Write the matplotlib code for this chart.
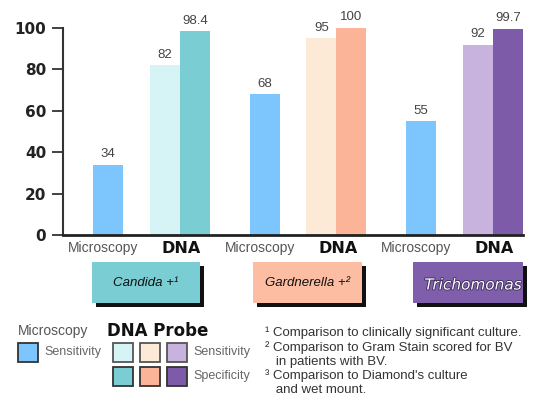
import matplotlib
matplotlib.use("Agg")
import matplotlib.pyplot as plt
from matplotlib.patches import Rectangle
import matplotlib.patheffects as pe

# Data
organisms = ["Candida +\u00b9", "Gardnerella +\u00b2", "Trichomonas"]
microscopy_sensitivity = [34, 68, 55]
dna_sensitivity = [82, 95, 92]
dna_specificity = [98.4, 100, 99.7]
y_ticks = [0, 20, 40, 60, 80, 100]
footnotes = [
    "\u00b9 Comparison to clinically significant culture.",
    "\u00b2 Comparison to Gram Stain scored for BV",
    "   in patients with BV.",
    "\u00b3 Comparison to Diamond's culture",
    "   and wet mount.",
]

# Colours
micro_color = "#7DC5FD"
sens_colors = ["#D6F4F6", "#FDEAD6", "#C8B2DE"]
spec_colors = ["#79CDD3", "#FCB499", "#7D5BA8"]
box_colors = ["#79CDD3", "#FCBDA2", "#7F5EAC"]

W, H = 548, 400
fig = plt.figure(figsize=(W / 100, H / 100), dpi=100)


def fx(px):
    return px / W


def fy(py):
    return 1 - py / H


ax = fig.add_axes([fx(63), fy(235), fx(523) - fx(63), fy(28) - fy(235)])

spacing = 5.22
width = 1.0
for i in range(3):
    xm = 1.5 + spacing * i
    xs = 3.4 + spacing * i
    xp = 4.4 + spacing * i
    ax.bar(xm, microscopy_sensitivity[i], width, color=micro_color, linewidth=0)
    ax.bar(xs, dna_sensitivity[i], width, color=sens_colors[i], linewidth=0)
    ax.bar(xp, dna_specificity[i], width, color=spec_colors[i], linewidth=0)
    for x, v in ((xm, microscopy_sensitivity[i]), (xs, dna_sensitivity[i]),
                 (xp, dna_specificity[i])):
        ax.text(x, v + 2.2, f"{v:g}", ha="center", va="bottom", fontsize=9.5,
                family="Liberation Sans", color="#444444", clip_on=False)

ax.set_xlim(0, 15.34)
ax.set_ylim(0, 100)
for s in ("top", "right"):
    ax.spines[s].set_visible(False)
ax.spines["left"].set_linewidth(1.5)
ax.spines["left"].set_color("#333333")
ax.spines["bottom"].set_linewidth(2)
ax.spines["bottom"].set_color("#222222")

ax.set_yticks(y_ticks)
ax.set_yticklabels([str(t) for t in y_ticks], fontsize=11, fontweight="bold",
                   color="#222222")
ax.tick_params(axis="y", length=8, width=1.3, color="#333333", pad=4)

xt, xl = [], []
for i in range(3):
    xt += [1.35 + spacing * i, 3.95 + spacing * i]
    xl += ["Microscopy", "DNA"]
ax.set_xticks(xt)
ax.set_xticklabels(xl)
ax.tick_params(axis="x", length=0, pad=4)
for k, lab in enumerate(ax.get_xticklabels()):
    if k % 2 == 0:
        lab.set_family("Liberation Sans")
        lab.set_fontsize(10)
        lab.set_color("#555555")
    else:
        lab.set_family("DejaVu Sans")
        lab.set_fontweight("bold")
        lab.set_fontsize(11.5)
        lab.set_color("#111111")


def fig_rect(x0, y0, x1, y1, **kw):
    r = Rectangle((fx(x0), fy(y1)), fx(x1) - fx(x0), fy(y0) - fy(y1),
                  transform=fig.transFigure, **kw)
    fig.add_artist(r)
    return r


# Organism name boxes with drop shadows
box_x = [(92, 200), (253, 362), (413, 523)]
for i, (x0, x1) in enumerate(box_x):
    fig_rect(x0 + 4, 266, x1 + 4, 307, facecolor="#111111", linewidth=0)
    fig_rect(x0, 262, x1, 303, facecolor=box_colors[i], linewidth=0)
    cx = (x0 + x1) / 2
    if i < 2:
        fig.text(fx(cx), fy(283), organisms[i], ha="center", va="center",
                 fontsize=9.5, style="italic", family="Liberation Sans",
                 color="#111111")
    else:
        t = fig.text(fx(cx + 5), fy(285), organisms[i], ha="center",
                     va="center", fontsize=11, style="italic",
                     family="DejaVu Sans", color="white",
                     bbox=dict(boxstyle="square,pad=0.1",
                               facecolor=box_colors[i], edgecolor="none"))
        t.set_path_effects([pe.withStroke(linewidth=1.2, foreground="#3a2a55")])

# Legend
fig.text(fx(18), fy(331), "Microscopy", ha="left", va="center", fontsize=10,
         family="Liberation Sans", color="#555555")
fig.text(fx(107), fy(331), "DNA Probe", ha="left", va="center", fontsize=12,
         fontweight="bold", family="DejaVu Sans", color="#111111")
fig_rect(18, 343, 38, 362, facecolor=micro_color, edgecolor="#333333",
         linewidth=1.3)
fig.text(fx(44), fy(352), "Sensitivity", ha="left", va="center", fontsize=9,
         family="Liberation Sans", color="#666666")
sq_x = [113, 140, 167]
for i, x0 in enumerate(sq_x):
    fig_rect(x0, 343, x0 + 20, 362, facecolor=sens_colors[i],
             edgecolor="#555555", linewidth=1.3)
    fig_rect(x0, 367, x0 + 20, 386, facecolor=spec_colors[i],
             edgecolor="#333333", linewidth=1.3)
fig.text(fx(193), fy(352), "Sensitivity", ha="left", va="center", fontsize=9,
         family="Liberation Sans", color="#666666")
fig.text(fx(193), fy(376), "Specificity", ha="left", va="center", fontsize=9,
         family="Liberation Sans", color="#666666")

# Footnotes
for k, line in enumerate(footnotes):
    fig.text(fx(265), fy(333 + 14.3 * k), line, ha="left", va="center",
             fontsize=9.5, family="Liberation Sans", color="#333333")

fig.savefig("out.png", dpi=100, facecolor="white")
